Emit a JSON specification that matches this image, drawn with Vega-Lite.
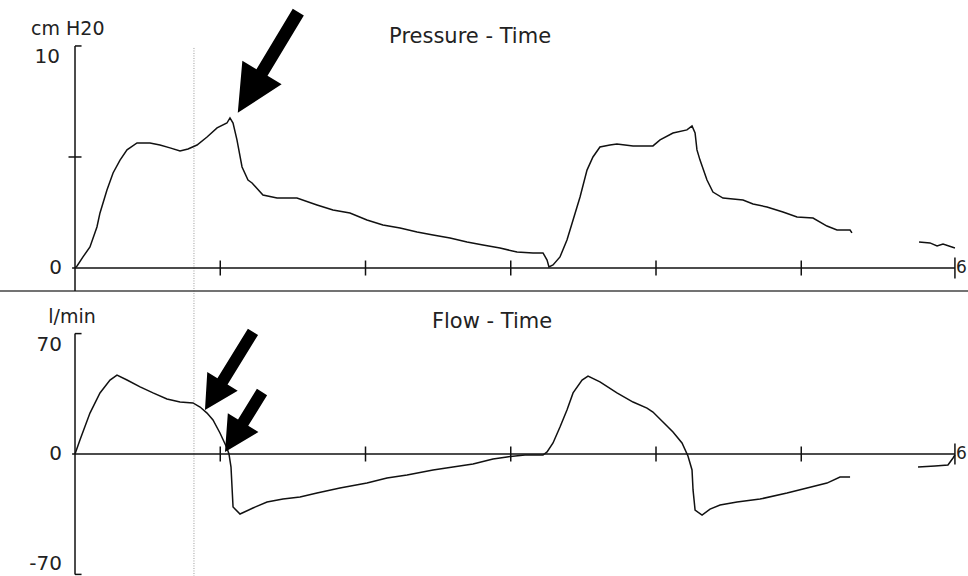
{
  "$schema": "https://vega.github.io/schema/vega-lite/v6.json",
  "width": 968,
  "height": 576,
  "autosize": {"type": "none"},
  "padding": 0,
  "background": "white",
  "config": {"view": {"stroke": null}, "text": {"font": "DejaVu Sans", "color": "#222"}},
  "datasets": {
    "pressure": [
      {"t":0,"v":0,"seg":1},{"t":0.014,"v":0.09,"seg":1},{"t":0.055,"v":0.5,"seg":1},{"t":0.103,"v":0.95,"seg":1},{"t":0.151,"v":1.85,"seg":1},{"t":0.172,"v":2.48,"seg":1},{"t":0.22,"v":3.51,"seg":1},{"t":0.262,"v":4.28,"seg":1},{"t":0.31,"v":4.86,"seg":1},{"t":0.358,"v":5.32,"seg":1},{"t":0.427,"v":5.63,"seg":1},{"t":0.516,"v":5.63,"seg":1},{"t":0.585,"v":5.54,"seg":1},{"t":0.654,"v":5.41,"seg":1},{"t":0.723,"v":5.27,"seg":1},{"t":0.778,"v":5.36,"seg":1},{"t":0.84,"v":5.54,"seg":1},{"t":0.909,"v":5.9,"seg":1},{"t":0.978,"v":6.31,"seg":1},{"t":1.046,"v":6.53,"seg":1},{"t":1.067,"v":6.76,"seg":1},{"t":1.088,"v":6.53,"seg":1},{"t":1.115,"v":5.77,"seg":1},{"t":1.15,"v":4.55,"seg":1},{"t":1.191,"v":3.96,"seg":1},{"t":1.219,"v":3.83,"seg":1},{"t":1.294,"v":3.29,"seg":1},{"t":1.391,"v":3.15,"seg":1},{"t":1.528,"v":3.15,"seg":1},{"t":1.666,"v":2.84,"seg":1},{"t":1.776,"v":2.61,"seg":1},{"t":1.893,"v":2.48,"seg":1},{"t":2.01,"v":2.16,"seg":1},{"t":2.12,"v":1.94,"seg":1},{"t":2.238,"v":1.8,"seg":1},{"t":2.355,"v":1.62,"seg":1},{"t":2.465,"v":1.49,"seg":1},{"t":2.582,"v":1.35,"seg":1},{"t":2.699,"v":1.17,"seg":1},{"t":2.809,"v":1.04,"seg":1},{"t":2.926,"v":0.9,"seg":1},{"t":3.043,"v":0.72,"seg":1},{"t":3.153,"v":0.68,"seg":1},{"t":3.222,"v":0.68,"seg":1},{"t":3.25,"v":0.36,"seg":1},{"t":3.263,"v":0.05,"seg":1},{"t":3.291,"v":0.14,"seg":1},{"t":3.339,"v":0.5,"seg":1},{"t":3.387,"v":1.26,"seg":1},{"t":3.429,"v":2.16,"seg":1},{"t":3.477,"v":3.2,"seg":1},{"t":3.525,"v":4.41,"seg":1},{"t":3.566,"v":5.0,"seg":1},{"t":3.614,"v":5.45,"seg":1},{"t":3.683,"v":5.54,"seg":1},{"t":3.731,"v":5.59,"seg":1},{"t":3.842,"v":5.5,"seg":1},{"t":3.979,"v":5.5,"seg":1},{"t":4.028,"v":5.77,"seg":1},{"t":4.117,"v":6.08,"seg":1},{"t":4.213,"v":6.22,"seg":1},{"t":4.248,"v":6.4,"seg":1},{"t":4.269,"v":6.08,"seg":1},{"t":4.282,"v":5.32,"seg":1},{"t":4.303,"v":4.86,"seg":1},{"t":4.351,"v":3.96,"seg":1},{"t":4.392,"v":3.42,"seg":1},{"t":4.461,"v":3.15,"seg":1},{"t":4.599,"v":3.06,"seg":1},{"t":4.668,"v":2.88,"seg":1},{"t":4.764,"v":2.75,"seg":1},{"t":4.874,"v":2.52,"seg":1},{"t":4.971,"v":2.3,"seg":1},{"t":5.081,"v":2.25,"seg":1},{"t":5.177,"v":1.89,"seg":1},{"t":5.246,"v":1.71,"seg":1},{"t":5.336,"v":1.71,"seg":1},{"t":5.349,"v":1.58,"seg":1},
      {"t":5.811,"v":1.17,"seg":2},{"t":5.886,"v":1.13,"seg":2},{"t":5.935,"v":0.99,"seg":2},{"t":5.976,"v":1.08,"seg":2},{"t":6.058,"v":0.9,"seg":2}
    ],
    "flow": [
      {"t":0,"v":0,"seg":1},{"t":0.034,"v":8.1,"seg":1},{"t":0.103,"v":23.8,"seg":1},{"t":0.172,"v":35.5,"seg":1},{"t":0.241,"v":43.0,"seg":1},{"t":0.289,"v":45.9,"seg":1},{"t":0.358,"v":43.0,"seg":1},{"t":0.448,"v":39.0,"seg":1},{"t":0.537,"v":35.5,"seg":1},{"t":0.633,"v":32.0,"seg":1},{"t":0.723,"v":30.2,"seg":1},{"t":0.812,"v":29.7,"seg":1},{"t":0.861,"v":27.3,"seg":1},{"t":0.909,"v":23.8,"seg":1},{"t":0.95,"v":19.8,"seg":1},{"t":0.998,"v":12.2,"seg":1},{"t":1.046,"v":3.5,"seg":1},{"t":1.06,"v":0,"seg":1},{"t":1.074,"v":-7.6,"seg":1},{"t":1.081,"v":-19.2,"seg":1},{"t":1.088,"v":-30.8,"seg":1},{"t":1.136,"v":-34.9,"seg":1},{"t":1.225,"v":-31.4,"seg":1},{"t":1.322,"v":-27.9,"seg":1},{"t":1.432,"v":-26.2,"seg":1},{"t":1.549,"v":-25.0,"seg":1},{"t":1.666,"v":-22.7,"seg":1},{"t":1.824,"v":-19.8,"seg":1},{"t":2.01,"v":-16.9,"seg":1},{"t":2.148,"v":-14.0,"seg":1},{"t":2.286,"v":-12.2,"seg":1},{"t":2.465,"v":-9.3,"seg":1},{"t":2.602,"v":-7.6,"seg":1},{"t":2.74,"v":-5.8,"seg":1},{"t":2.878,"v":-2.9,"seg":1},{"t":2.974,"v":-1.7,"seg":1},{"t":3.098,"v":-0.6,"seg":1},{"t":3.222,"v":-0.6,"seg":1},{"t":3.25,"v":1.2,"seg":1},{"t":3.291,"v":6.4,"seg":1},{"t":3.339,"v":15.7,"seg":1},{"t":3.387,"v":25.6,"seg":1},{"t":3.429,"v":35.5,"seg":1},{"t":3.491,"v":43.0,"seg":1},{"t":3.532,"v":45.3,"seg":1},{"t":3.614,"v":41.9,"seg":1},{"t":3.731,"v":35.5,"seg":1},{"t":3.842,"v":30.2,"seg":1},{"t":3.938,"v":26.7,"seg":1},{"t":3.979,"v":24.4,"seg":1},{"t":4.048,"v":18.6,"seg":1},{"t":4.117,"v":12.8,"seg":1},{"t":4.179,"v":6.4,"seg":1},{"t":4.22,"v":-1.2,"seg":1},{"t":4.248,"v":-9.3,"seg":1},{"t":4.255,"v":-20.9,"seg":1},{"t":4.269,"v":-32.6,"seg":1},{"t":4.317,"v":-35.5,"seg":1},{"t":4.372,"v":-32.0,"seg":1},{"t":4.441,"v":-29.7,"seg":1},{"t":4.558,"v":-27.9,"seg":1},{"t":4.716,"v":-26.2,"seg":1},{"t":4.902,"v":-22.7,"seg":1},{"t":5.04,"v":-19.8,"seg":1},{"t":5.177,"v":-16.9,"seg":1},{"t":5.267,"v":-13.4,"seg":1},{"t":5.336,"v":-13.4,"seg":1},
      {"t":5.804,"v":-7.6,"seg":2},{"t":5.921,"v":-7.0,"seg":2},{"t":6.01,"v":-6.4,"seg":2},{"t":6.045,"v":-2.3,"seg":2},{"t":6.058,"v":-0.6,"seg":2}
    ]
  },
  "resolve": {"scale": {"y": "independent"}},
  "layer": [
    {
      "encoding": {"y": {"field": "v", "type": "quantitative", "scale": {"domain": [-13.87, 12.07], "nice": false, "zero": false}, "axis": null}},
      "layer": [
        {"data": {"values": [{"t": 0.819, "v": 9.91, "v2": -13.87}]}, "mark": {"type": "rule", "color": "#9a9a9a", "strokeWidth": 1, "strokeDash": [1, 1.5]},
         "encoding": {"x": {"field":"t","type":"quantitative","scale":{"domain":[-0.5164,6.148],"nice":false,"zero":false},"axis":null}, "y2": {"field": "v2"}}},
        {"data": {"values": [{"v": -1.04}]}, "mark": {"type": "rule", "color": "#444", "strokeWidth": 1.5}, "encoding": {}},
        {"data": {"values": [{"t": 0, "v": 10, "v2": -1.04}]}, "mark": {"type": "rule", "color": "#111", "strokeWidth": 1.5},
         "encoding": {"x": {"field":"t","type":"quantitative","scale":{"domain":[-0.5164,6.148],"nice":false,"zero":false},"axis":null}, "y2": {"field": "v2"}}},
        {"data": {"values": [{"t": 0, "t2": 0.045, "v": 10}, {"t": -0.02, "t2": 6.058, "v": 0}]}, "mark": {"type": "rule", "color": "#111", "strokeWidth": 1.5},
         "encoding": {"x": {"field":"t","type":"quantitative","scale":{"domain":[-0.5164,6.148],"nice":false,"zero":false},"axis":null}, "x2": {"field": "t2"}}},
        {"data": {"values": [{"t": 0, "v": 5}]}, "mark": {"type": "tick", "orient": "horizontal", "size": 13, "thickness": 1.5, "color": "#111", "opacity": 1},
         "encoding": {"x": {"field":"t","type":"quantitative","scale":{"domain":[-0.5164,6.148],"nice":false,"zero":false},"axis":null}}},
        {"data": {"values": [{"t": 1, "v": 0}, {"t": 2, "v": 0}, {"t": 3, "v": 0}, {"t": 4, "v": 0}, {"t": 5, "v": 0}]}, "mark": {"type": "tick", "orient": "vertical", "size": 15, "thickness": 1.5, "color": "#111", "opacity": 1},
         "encoding": {"x": {"field":"t","type":"quantitative","scale":{"domain":[-0.5164,6.148],"nice":false,"zero":false},"axis":null}}},
        {"data": {"values": [{"t": 6.058, "v": 0}]}, "mark": {"type": "tick", "orient": "vertical", "size": 21, "thickness": 1.5, "color": "#111", "opacity": 1},
         "encoding": {"x": {"field":"t","type":"quantitative","scale":{"domain":[-0.5164,6.148],"nice":false,"zero":false},"axis":null}}},
        {"data": {"name": "pressure"}, "mark": {"type": "line", "color": "#111", "strokeWidth": 1.5},
         "encoding": {"x": {"field":"t","type":"quantitative","scale":{"domain":[-0.5164,6.148],"nice":false,"zero":false},"axis":null}, "detail": {"field": "seg"}}},
        {"data": {"values": [{"t": 0, "v": 10, "label": "10"}]}, "mark": {"type": "text", "align": "right", "baseline": "top", "dx": -15, "dy": 1, "fontSize": 20},
         "encoding": {"x": {"field":"t","type":"quantitative","scale":{"domain":[-0.5164,6.148],"nice":false,"zero":false},"axis":null}, "text": {"field": "label"}}},
        {"data": {"values": [{"t": 0, "v": 0, "label": "0"}]}, "mark": {"type": "text", "align": "right", "baseline": "middle", "dx": -13, "fontSize": 20},
         "encoding": {"x": {"field":"t","type":"quantitative","scale":{"domain":[-0.5164,6.148],"nice":false,"zero":false},"axis":null}, "text": {"field": "label"}}},
        {"data": {"values": [{"t": 0, "v": 10, "label": "cm H20"}]}, "mark": {"type": "text", "align": "left", "baseline": "middle", "dx": -44, "dy": -17, "fontSize": 19},
         "encoding": {"x": {"field":"t","type":"quantitative","scale":{"domain":[-0.5164,6.148],"nice":false,"zero":false},"axis":null}, "text": {"field": "label"}}},
        {"data": {"values": [{"t": 2.72, "v": 10.4, "label": "Pressure - Time"}]}, "mark": {"type": "text", "align": "center", "baseline": "middle", "fontSize": 21},
         "encoding": {"x": {"field":"t","type":"quantitative","scale":{"domain":[-0.5164,6.148],"nice":false,"zero":false},"axis":null}, "text": {"field": "label"}}},
        {"data": {"values": [{"t": 6.058, "v": 0, "label": "6"}]}, "mark": {"type": "text", "align": "left", "baseline": "middle", "dx": 1, "fontSize": 17},
         "encoding": {"x": {"field":"t","type":"quantitative","scale":{"domain":[-0.5164,6.148],"nice":false,"zero":false},"axis":null}, "text": {"field": "label"}}},
        {"data": {"values": [{"t": 1.329, "v": 9.257}]}, "mark": {"type": "point", "shape": "M-0.11,-1L0.11,-1L0.11,0.2L0.39,0.2L0,1L-0.39,0.2L-0.11,0.2Z", "filled": true, "color": "#000", "opacity": 1, "size": 13806, "angle": 31, "strokeWidth": 0},
         "encoding": {"x": {"field":"t","type":"quantitative","scale":{"domain":[-0.5164,6.148],"nice":false,"zero":false},"axis":null}}}
      ]
    },
    {
      "encoding": {"y": {"field": "v", "type": "quantitative", "scale": {"domain": [-70.93, 263.95], "nice": false, "zero": false}, "axis": null}},
      "layer": [
        {"data": {"values": [{"t": 0, "v": 70, "v2": -70}]}, "mark": {"type": "rule", "color": "#111", "strokeWidth": 1.5},
         "encoding": {"x": {"field":"t","type":"quantitative","scale":{"domain":[-0.5164,6.148],"nice":false,"zero":false},"axis":null}, "y2": {"field": "v2"}}},
        {"data": {"values": [{"t": 0, "t2": 0.045, "v": 70}, {"t": 0, "t2": 0.045, "v": -70}, {"t": -0.02, "t2": 6.058, "v": 0}]}, "mark": {"type": "rule", "color": "#111", "strokeWidth": 1.5},
         "encoding": {"x": {"field":"t","type":"quantitative","scale":{"domain":[-0.5164,6.148],"nice":false,"zero":false},"axis":null}, "x2": {"field": "t2"}}},
        {"data": {"values": [{"t": 1, "v": 0}, {"t": 2, "v": 0}, {"t": 3, "v": 0}, {"t": 4, "v": 0}, {"t": 5, "v": 0}]}, "mark": {"type": "tick", "orient": "vertical", "size": 15, "thickness": 1.5, "color": "#111", "opacity": 1},
         "encoding": {"x": {"field":"t","type":"quantitative","scale":{"domain":[-0.5164,6.148],"nice":false,"zero":false},"axis":null}}},
        {"data": {"values": [{"t": 6.058, "v": 0}]}, "mark": {"type": "tick", "orient": "vertical", "size": 21, "thickness": 1.5, "color": "#111", "opacity": 1},
         "encoding": {"x": {"field":"t","type":"quantitative","scale":{"domain":[-0.5164,6.148],"nice":false,"zero":false},"axis":null}}},
        {"data": {"name": "flow"}, "mark": {"type": "line", "color": "#111", "strokeWidth": 1.5},
         "encoding": {"x": {"field":"t","type":"quantitative","scale":{"domain":[-0.5164,6.148],"nice":false,"zero":false},"axis":null}, "detail": {"field": "seg"}}},
        {"data": {"values": [{"t": 0, "v": 70, "label": "70"}]}, "mark": {"type": "text", "align": "right", "baseline": "top", "dx": -13, "dy": 1, "fontSize": 20},
         "encoding": {"x": {"field":"t","type":"quantitative","scale":{"domain":[-0.5164,6.148],"nice":false,"zero":false},"axis":null}, "text": {"field": "label"}}},
        {"data": {"values": [{"t": 0, "v": 0, "label": "0"}]}, "mark": {"type": "text", "align": "right", "baseline": "middle", "dx": -13, "fontSize": 20},
         "encoding": {"x": {"field":"t","type":"quantitative","scale":{"domain":[-0.5164,6.148],"nice":false,"zero":false},"axis":null}, "text": {"field": "label"}}},
        {"data": {"values": [{"t": 0, "v": -70, "label": "-70"}]}, "mark": {"type": "text", "align": "right", "baseline": "alphabetic", "dx": -13, "dy": -4, "fontSize": 20},
         "encoding": {"x": {"field":"t","type":"quantitative","scale":{"domain":[-0.5164,6.148],"nice":false,"zero":false},"axis":null}, "text": {"field": "label"}}},
        {"data": {"values": [{"t": 0, "v": 70, "label": "l/min"}]}, "mark": {"type": "text", "align": "center", "baseline": "middle", "dx": -3, "dy": -17, "fontSize": 19},
         "encoding": {"x": {"field":"t","type":"quantitative","scale":{"domain":[-0.5164,6.148],"nice":false,"zero":false},"axis":null}, "text": {"field": "label"}}},
        {"data": {"values": [{"t": 2.871, "v": 76.7, "label": "Flow - Time"}]}, "mark": {"type": "text", "align": "center", "baseline": "middle", "fontSize": 21},
         "encoding": {"x": {"field":"t","type":"quantitative","scale":{"domain":[-0.5164,6.148],"nice":false,"zero":false},"axis":null}, "text": {"field": "label"}}},
        {"data": {"values": [{"t": 6.058, "v": 0, "label": "6"}]}, "mark": {"type": "text", "align": "left", "baseline": "middle", "dx": 1, "fontSize": 17},
         "encoding": {"x": {"field":"t","type":"quantitative","scale":{"domain":[-0.5164,6.148],"nice":false,"zero":false},"axis":null}, "text": {"field": "label"}}},
        {"data": {"values": [{"t": 1.06, "v": 48.3}]}, "mark": {"type": "point", "shape": "M-0.13,-1L0.13,-1L0.13,0.27L0.39,0.27L0,1L-0.39,0.27L-0.13,0.27Z", "filled": true, "color": "#000", "opacity": 1, "size": 8391, "angle": 31.6, "strokeWidth": 0},
         "encoding": {"x": {"field":"t","type":"quantitative","scale":{"domain":[-0.5164,6.148],"nice":false,"zero":false},"axis":null}}},
        {"data": {"values": [{"t": 1.16, "v": 18.6}]}, "mark": {"type": "point", "shape": "M-0.17,-1L0.17,-1L0.17,0.02L0.51,0.02L0,1L-0.51,0.02L-0.17,0.02Z", "filled": true, "color": "#000", "opacity": 1, "size": 4970, "angle": 31.7, "strokeWidth": 0},
         "encoding": {"x": {"field":"t","type":"quantitative","scale":{"domain":[-0.5164,6.148],"nice":false,"zero":false},"axis":null}}}
      ]
    }
  ]
}
